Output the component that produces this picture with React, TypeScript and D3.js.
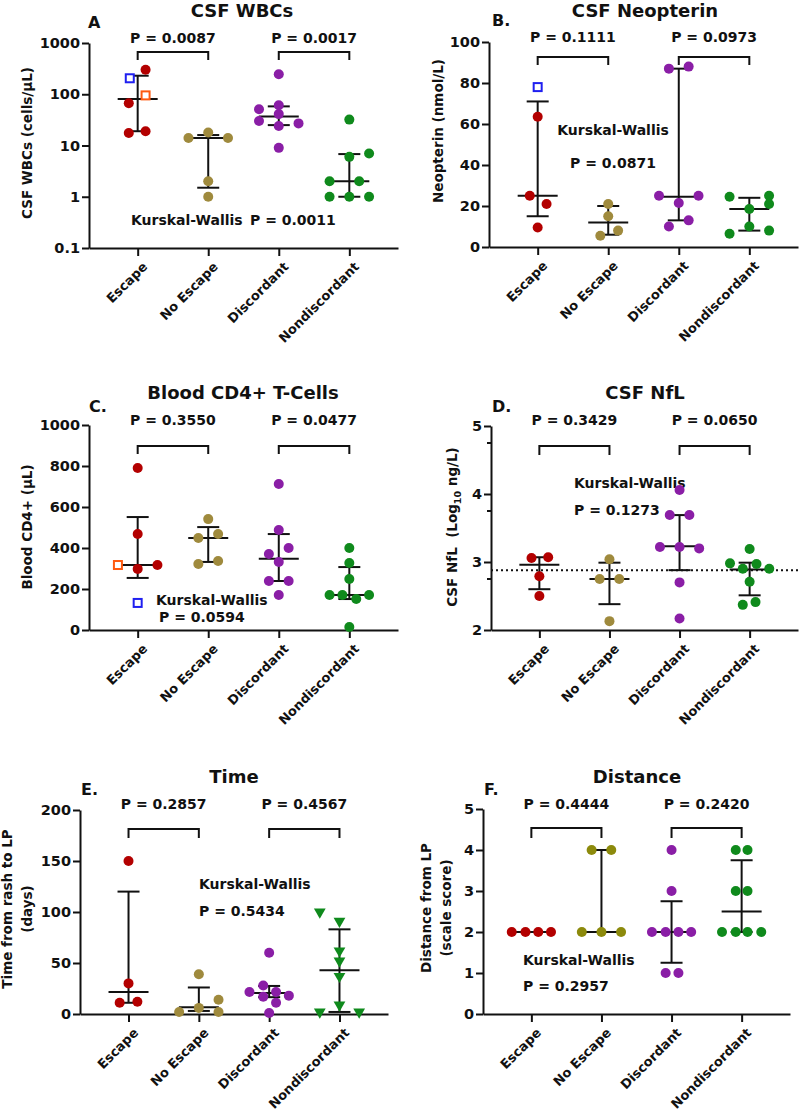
import React, { useEffect, useRef } from 'react';
import * as d3 from 'd3';

const groups = ['Escape', 'No Escape', 'Discordant', 'Nondiscordant'];
const groupColors = ['#b30000', '#9f8a3d', '#8a1ea6', '#0f8a1c'];
const groupColorsF = ['#b30000', '#8c8a0c', '#8a1ea6', '#0f8a1c'];

// points: [group, value, jitter]   squares: [group, value, jitter, kind]
const wbcPoints = [
	[0, 300, 0.8], [0, 67, -0.9], [0, 17.5, -0.9], [0, 19, 0.8],
	[1, 14, -2], [1, 18, 0], [1, 14, 2], [1, 2, 0], [1, 1, 0],
	[2, 245, 0], [2, 51, -2], [2, 61, 0], [2, 30, -2], [2, 41, 0], [2, 24, 0], [2, 27, 2], [2, 9, 0],
	[3, 32, 0], [3, 6, 0], [3, 7, 2], [3, 2, -2], [3, 2, 1], [3, 1, -2], [3, 1, 0], [3, 1, 2],
];
const wbcSquares = [[0, 205, -0.8, 'blue'], [0, 95, 0.8, 'orange']];
const wbcMedian = [81, 14, 37, 2];
const wbcLow = [19, 1.5, 25, 1];
const wbcHigh = [230, 16, 58, 6.8];

const neoPoints = [
	[0, 63.5, 0], [0, 25, -0.8], [0, 21, 0.9], [0, 9.5, 0],
	[1, 21, 0], [1, 15, 0], [1, 8, 1], [1, 5.5, -0.8],
	[2, 87, -1], [2, 88, 1], [2, 25, -2], [2, 25, 2], [2, 21.5, 0], [2, 13, 1], [2, 10, -1],
	[3, 24.5, -2], [3, 25, 2], [3, 21, 2], [3, 18.5, 0], [3, 10, 0], [3, 8, 2], [3, 6.5, -2],
];
const neoSquares = [[0, 78, 0, 'blue']];
const neoMedian = [25, 12, 24.5, 18.5];
const neoLow = [15, 6, 13, 8];
const neoHigh = [71, 20, 87, 24];

const cd4Points = [
	[0, 790, 0], [0, 468, 0], [0, 298, 0], [0, 317, 2],
	[1, 541, 0], [1, 449, -1], [1, 468, 1], [1, 322, -1], [1, 337, 1],
	[2, 712, 0], [2, 488, 0], [2, 400, 1], [2, 371, -1], [2, 332, 0], [2, 239, -1], [2, 239, 1], [2, 171, 0],
	[3, 400, 0], [3, 327, 0], [3, 249, 0], [3, 171, -2], [3, 171, -0.7], [3, 151, 0.7], [3, 171, 2], [3, 15, 0],
];
const cd4Squares = [[0, 317, -2, 'orange'], [0, 132, 0, 'blue']];
const cd4Median = [317, 449, 348, 171];
const cd4Low = [254, 332, 239, 151];
const cd4High = [551, 502, 468, 307];

const nflPoints = [
	[0, 3.06, -0.8], [0, 3.07, 0.9], [0, 2.79, 0], [0, 2.5, 0],
	[1, 3.04, 0], [1, 2.75, -1], [1, 2.75, 1], [1, 2.13, 0],
	[2, 4.06, 0], [2, 3.69, -1], [2, 3.69, 1], [2, 3.22, -2], [2, 3.22, 0], [2, 3.2, 2], [2, 2.7, 0], [2, 2.17, 0],
	[3, 3.19, 0], [3, 2.98, -2], [3, 2.97, 0.7], [3, 2.9, -0.7], [3, 2.9, 2], [3, 2.71, 0], [3, 2.37, -0.7], [3, 2.41, 0.6],
];
const nflMedian = [2.96, 2.75, 3.23, 2.89];
const nflLow = [2.6, 2.38, 2.88, 2.51];
const nflHigh = [3.07, 2.99, 3.69, 2.99];
const nflReference = 2.88;

const timePoints = [
	[0, 150, 0], [0, 30, 0], [0, 11, -0.9], [0, 12, 0.9],
	[1, 39, 0], [1, 14, 2], [1, 6, 0], [1, 2, -2], [1, 2, 2],
	[2, 60, 0], [2, 28, -0.6], [2, 21.5, -2], [2, 21.5, 0.7], [2, 18, 2], [2, 17, -0.6], [2, 11, 0.7], [2, 1, 0],
];
const timeTriangles = [
	[3, 99, -2], [3, 90, 0], [3, 61, 0], [3, 51, 0], [3, 36, 0], [3, 8, 0], [3, 1, -2], [3, 1, 2],
];
const timeMedian = [21.5, 6.5, 20.5, 43];
const timeLow = [11, 3, 16.5, 2];
const timeHigh = [120, 26, 27.5, 83];

const distPoints = [
	[0, 2, -2], [0, 2, -0.6], [0, 2, 0.7], [0, 2, 2],
	[1, 4, -1], [1, 4, 1], [1, 2, -2], [1, 2, 0], [1, 2, 2],
	[2, 4, 0], [2, 3, 0], [2, 2, -2], [2, 2, -0.6], [2, 2, 0.7], [2, 2, 2], [2, 1, -0.6], [2, 1, 0.7],
	[3, 4, -0.6], [3, 4, 0.6], [3, 3, -0.6], [3, 3, 0.6], [3, 2, -2], [3, 2, -0.6], [3, 2, 0.6], [3, 2, 2],
];
const distMedian = [2, 2, 2, 2.5];
const distLow = [2, 2, 1.25, 2];
const distHigh = [2, 4, 2.75, 3.75];

const FONT = '"DejaVu Sans", "Liberation Sans", Arial, sans-serif';
const squareColors = { blue: '#1f1ff0', orange: '#ff5a10' };

const panels = [
	{
		letter: 'A', title: 'CSF WBCs', left: 89, right: 398, top: 43, bottom: 248,
		log: true, domain: [0.1, 1000], ticks: [0.1, 1, 10, 100, 1000],
		ylabel: ['CSF WBCs (cells/μL)'], ylabelX: [28], ylabelY: 143,
		titleX: 242, titleY: 17, letterX: 88, letterY: 28, pY: 43,
		pL: 'P = 0.0087', pR: 'P = 0.0017', bracketY: 52, legY: 60,
		kw: [['Kurskal-Wallis', 131, 225, 'start'], ['P = 0.0011', 250, 225, 'start']],
		points: wbcPoints, squares: wbcSquares, median: wbcMedian, low: wbcLow, high: wbcHigh,
	},
	{
		letter: 'B.', title: 'CSF Neopterin', left: 489, right: 798, top: 42, bottom: 247,
		domain: [0, 100], ticks: [0, 20, 40, 60, 80, 100],
		ylabel: ['Neopterin (nmol/L)'], ylabelX: [439], ylabelY: 131,
		titleX: 645, titleY: 17, letterX: 492, letterY: 26, pY: 42,
		pL: 'P = 0.1111', pR: 'P = 0.0973', bracketY: 57, legY: 65,
		kw: [['Kurskal-Wallis', 613, 135, 'middle'], ['P = 0.0871', 613, 168, 'middle']],
		points: neoPoints, squares: neoSquares, median: neoMedian, low: neoLow, high: neoHigh,
	},
	{
		letter: 'C.', title: 'Blood CD4+ T-Cells', left: 89, right: 398, top: 425, bottom: 630,
		domain: [0, 1000], ticks: [0, 200, 400, 600, 800, 1000],
		ylabel: ['Blood CD4+ (μL)'], ylabelX: [28], ylabelY: 527,
		titleX: 243, titleY: 399, letterX: 89, letterY: 412, pY: 425,
		pL: 'P = 0.3550', pR: 'P = 0.0477', bracketY: 446, legY: 454,
		kw: [['Kurskal-Wallis', 156, 605, 'start'], ['P = 0.0594', 159, 622, 'start']],
		points: cd4Points, squares: cd4Squares, median: cd4Median, low: cd4Low, high: cd4High,
	},
	{
		letter: 'D.', title: 'CSF NfL', left: 491, right: 798, top: 426, bottom: 630,
		domain: [2, 5], ticks: [2, 3, 4, 5], minor: [2.75, 3.75, 4.75],
		ylabel: ['CSF NfL  (Log|10| ng/L)'], ylabelX: [453], ylabelY: 527,
		titleX: 645, titleY: 399, letterX: 492, letterY: 412, pY: 425,
		pL: 'P = 0.3429', pR: 'P = 0.0650', bracketY: 446, legY: 455,
		kw: [['Kurskal-Wallis', 574, 488, 'start'], ['P = 0.1273', 574, 515, 'start']],
		points: nflPoints, median: nflMedian, low: nflLow, high: nflHigh, reference: nflReference,
	},
	{
		letter: 'E.', title: 'Time', left: 80, right: 388, top: 810, bottom: 1014,
		domain: [0, 200], ticks: [0, 50, 100, 150, 200],
		ylabel: ['Time from rash to LP', '(days)'], ylabelX: [8, 28], ylabelY: 909,
		titleX: 234, titleY: 783, letterX: 81, letterY: 795, pY: 809,
		pL: 'P = 0.2857', pR: 'P = 0.4567', bracketY: 829, legY: 838,
		kw: [['Kurskal-Wallis', 199, 889, 'start'], ['P = 0.5434', 199, 916, 'start']],
		points: timePoints, triangles: timeTriangles, median: timeMedian, low: timeLow, high: timeHigh,
	},
	{
		letter: 'F.', title: 'Distance', left: 483, right: 790, top: 809, bottom: 1014,
		domain: [0, 5], ticks: [0, 1, 2, 3, 4, 5],
		ylabel: ['Distance from LP', '(scale score)'], ylabelX: [427, 447], ylabelY: 908,
		titleX: 637, titleY: 783, letterX: 484, letterY: 795, pY: 809,
		pL: 'P = 0.4444', pR: 'P = 0.2420', bracketY: 828, legY: 838,
		kw: [['Kurskal-Wallis', 523, 965, 'start'], ['P = 0.2957', 523, 991, 'start']],
		points: distPoints, median: distMedian, low: distLow, high: distHigh, colors: groupColorsF,
	},
];

function drawPanel(svg, p) {
	const g = svg.append('g');
	const colors = p.colors || groupColors;
	const x = d3.scalePoint().domain(groups).range([p.left, p.right]).padding(0.69);
	const y = (p.log ? d3.scaleLog() : d3.scaleLinear()).domain(p.domain).range([p.bottom, p.top]);
	const jit = 0.14 * x.step();
	const px = (gi, j) => x(groups[gi]) + j * jit;

	// axes
	const ay = g.append('g').attr('transform', `translate(${p.left},0)`)
		.call(d3.axisLeft(y).tickValues(p.ticks).tickFormat(d => String(d)).tickSize(7).tickSizeOuter(0));
	const ax = g.append('g').attr('transform', `translate(0,${p.bottom})`)
		.call(d3.axisBottom(x).tickSize(8).tickSizeOuter(0).tickFormat(() => ''));
	[ay, ax].forEach(a => {
		a.selectAll('path, line').attr('stroke', '#111').attr('stroke-width', 2);
		a.selectAll('text').attr('font-family', FONT).attr('font-weight', 'bold').attr('font-size', 14.5).attr('fill', '#111');
	});
	ay.selectAll('text').attr('x', -9);
	if (p.minor) {
		g.selectAll('.minor').data(p.minor).enter().append('line')
			.attr('x1', p.left - 4).attr('x2', p.left).attr('y1', d => y(d)).attr('y2', d => y(d))
			.attr('stroke', '#111').attr('stroke-width', 2);
	}
	groups.forEach(name => {
		g.append('text').text(name)
			.attr('transform', `translate(${x(name) + 4},${p.bottom + 13}) rotate(-45)`)
			.attr('text-anchor', 'end').attr('dy', '0.72em')
			.attr('font-family', FONT).attr('font-weight', 'bold').attr('font-size', 13).attr('fill', '#111');
	});

	// y label
	p.ylabel.forEach((lab, i) => {
		const t = g.append('text')
			.attr('transform', `translate(${p.ylabelX[i]},${p.ylabelY}) rotate(-90)`)
			.attr('text-anchor', 'middle').attr('dominant-baseline', 'middle').style('white-space', 'pre')
			.attr('font-family', FONT).attr('font-weight', 'bold').attr('font-size', 13.5).attr('fill', '#111');
		lab.split('|').forEach((s, k) => {
			const ts = t.append('tspan').text(s);
			if (k === 1) ts.attr('font-size', 9.5).attr('baseline-shift', 'sub');
		});
	});

	// titles and annotations
	const txt = (s, tx, ty, size, anchor) => g.append('text').text(s).attr('x', tx).attr('y', ty)
		.attr('text-anchor', anchor).attr('font-family', FONT).attr('font-weight', 'bold')
		.attr('font-size', size).attr('fill', '#111');
	txt(p.title, p.titleX, p.titleY, 18, 'middle');
	txt(p.letter, p.letterX, p.letterY, 16, 'start');
	txt(p.pL, (px(0, 0) + px(1, 0)) / 2, p.pY, 14, 'middle');
	txt(p.pR, (px(2, 0) + px(3, 0)) / 2, p.pY, 14, 'middle');
	p.kw.forEach(k => txt(k[0], k[1], k[2], 14, k[3]));

	[[0, 1], [2, 3]].forEach(([a, b]) => {
		g.append('path')
			.attr('d', `M${px(a, 0)},${p.legY}V${p.bracketY}H${px(b, 0)}V${p.legY}`)
			.attr('fill', 'none').attr('stroke', '#111').attr('stroke-width', 2);
	});

	if (p.reference !== undefined) {
		g.append('line').attr('x1', p.left).attr('x2', p.right)
			.attr('y1', y(p.reference)).attr('y2', y(p.reference))
			.attr('stroke', '#111').attr('stroke-width', 2).attr('stroke-dasharray', '2,3');
	}

	// median with interquartile range
	groups.forEach((name, i) => {
		const cx = x(name);
		const seg = (x1, x2, y1, y2) => g.append('line').attr('x1', x1).attr('x2', x2).attr('y1', y1).attr('y2', y2)
			.attr('stroke', '#111').attr('stroke-width', 2);
		seg(cx, cx, y(p.low[i]), y(p.high[i]));
		seg(cx - 11, cx + 11, y(p.low[i]), y(p.low[i]));
		seg(cx - 11, cx + 11, y(p.high[i]), y(p.high[i]));
		seg(cx - 20, cx + 20, y(p.median[i]), y(p.median[i]));
	});

	// points
	g.selectAll('circle.pt').data(p.points).enter().append('circle')
		.attr('cx', d => px(d[0], d[2])).attr('cy', d => y(d[1])).attr('r', 5)
		.attr('fill', d => colors[d[0]]);
	if (p.squares) {
		g.selectAll('rect.sq').data(p.squares).enter().append('rect')
			.attr('x', d => px(d[0], d[2]) - 4).attr('y', d => y(d[1]) - 4)
			.attr('width', 8).attr('height', 8).attr('fill', 'white')
			.attr('stroke', d => squareColors[d[3]]).attr('stroke-width', 2);
	}
	if (p.triangles) {
		const tri = d3.symbol().type(d3.symbolTriangle).size(60);
		g.selectAll('path.tri').data(p.triangles).enter().append('path')
			.attr('d', tri)
			.attr('transform', d => `translate(${px(d[0], d[2])},${y(d[1]) - 1}) rotate(180)`)
			.attr('fill', d => colors[d[0]]);
	}
}

export default function App() {
	const ref = useRef(null);
	useEffect(() => {
		const svg = d3.select(ref.current);
		svg.selectAll('*').remove();
		svg.append('rect').attr('width', 800).attr('height', 1115).attr('fill', 'white');
		panels.forEach(p => drawPanel(svg, p));
	}, []);
	return (
		<svg ref={ref} width={800} height={1115}
			style={{ position: 'absolute', left: 0, top: 0, display: 'block' }} />
	);
}
